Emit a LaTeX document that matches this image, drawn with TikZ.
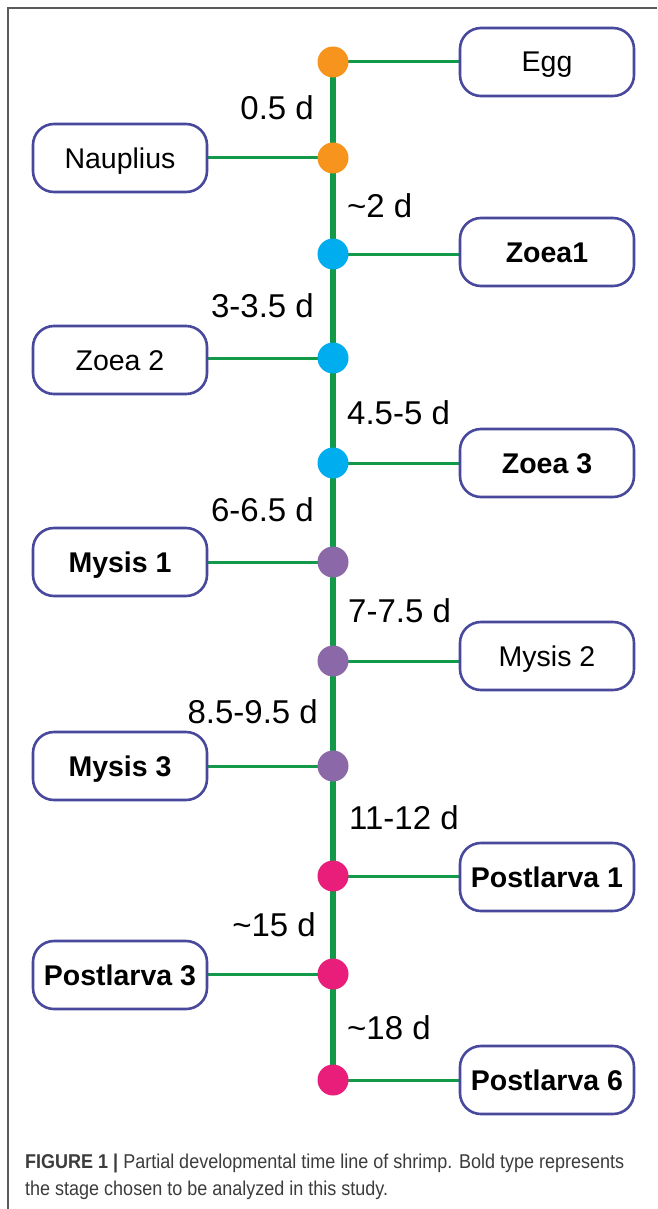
\documentclass[tikz,border=0pt]{standalone}
\usepackage{fontspec}
\setmainfont{Liberation Sans}
\newfontfamily\capfont[FakeStretch=0.9]{Liberation Sans}
\pgfdeclarelayer{back}
\pgfsetlayers{back,main}
\definecolor{lineGreen}{RGB}{19,154,72}
\definecolor{boxBlue}{RGB}{72,72,156}
\definecolor{dotOrange}{RGB}{247,148,30}
\definecolor{dotCyan}{RGB}{0,174,239}
\definecolor{dotPurple}{RGB}{139,105,168}
\definecolor{dotPink}{RGB}{233,30,122}
\definecolor{frameGray}{RGB}{90,90,90}
\definecolor{capGray}{RGB}{60,60,60}
\begin{document}
\begin{tikzpicture}[x=1pt,y=-1pt,
  stagebox/.style={draw=boxBlue,line width=2.6pt,rounded corners=21pt,fill=white,
    minimum width=174pt,minimum height=68pt,inner sep=0pt,
    text height=20pt,text depth=0pt,
    font=\fontsize{28.5}{32}\selectfont},
  dot/.style={circle,minimum size=31pt,inner sep=0pt},
  daylbl/.style={font=\fontsize{33}{38}\selectfont,inner sep=0pt},
  spine/.style={lineGreen,line width=6pt},
  link/.style={lineGreen,line width=3pt}]
\useasboundingbox (0,0) rectangle (657,1209);
% partial frame
\draw[frameGray,line width=1.3pt] (8,1209) -- (8,8) -- (657,8);

% time points on the main axis
\node[dot,fill=dotOrange] (d1) at (333,62) {};
\node[dot,fill=dotOrange] (d2) at (333,158) {};
\node[dot,fill=dotCyan] (d3) at (333,254) {};
\node[dot,fill=dotCyan] (d4) at (333,358) {};
\node[dot,fill=dotCyan] (d5) at (333,463) {};
\node[dot,fill=dotPurple] (d6) at (333,562) {};
\node[dot,fill=dotPurple] (d7) at (333,661) {};
\node[dot,fill=dotPurple] (d8) at (333,766) {};
\node[dot,fill=dotPink] (d9) at (333,876) {};
\node[dot,fill=dotPink] (d10) at (333,974) {};
\node[dot,fill=dotPink] (d11) at (333,1080) {};

% stage boxes
\node[stagebox] (egg) at (547,62) {Egg};
\node[stagebox] (naup) at (120,158) {Nauplius};
\node[stagebox] (z1) at (547,252) {\bfseries Zoea1};
\node[stagebox] (z2) at (120,360) {Zoea 2};
\node[stagebox] (z3) at (547,463) {\bfseries Zoea 3};
\node[stagebox] (m1) at (120,562) {\bfseries Mysis 1};
\node[stagebox] (m2) at (547,656) {Mysis 2};
\node[stagebox] (m3) at (120,766) {\bfseries Mysis 3};
\node[stagebox] (p1) at (547,877) {\bfseries Postlarva 1};
\node[stagebox] (p3) at (120,975) {\bfseries Postlarva 3};
\node[stagebox] (p6) at (547,1080) {\bfseries Postlarva 6};

% connectors, kept behind the dots and boxes
\begin{pgfonlayer}{back}
  \fill[white] (0,0) rectangle (657,1209);
  \draw[spine] (d1.center) -- (d11.center);
  \draw[link] (d1.center) -- (egg.west);
  \draw[link] (d2.center) -- (naup.east);
  \draw[link] (d3.center) -- (d3.center -| z1.west);
  \draw[link] (d4.center) -- (d4.center -| z2.east);
  \draw[link] (d5.center) -- (z3.west);
  \draw[link] (d6.center) -- (m1.east);
  \draw[link] (d7.center) -- (d7.center -| m2.west);
  \draw[link] (d8.center) -- (m3.east);
  \draw[link] (d9.center) -- (d9.center -| p1.west);
  \draw[link] (d10.center) -- (d10.center -| p3.east);
  \draw[link] (d11.center) -- (p6.west);
\end{pgfonlayer}

% day labels
\node[daylbl,anchor=east] (t1) at (314,108) {0.5 d};
\node[daylbl,anchor=west] (t2) at (347,206) {\textasciitilde 2 d};
\node[daylbl,anchor=east] (t3) at (314,306) {3-3.5 d};
\node[daylbl,anchor=west] (t4) at (347,413) {4.5-5 d};
\node[daylbl,anchor=east] (t5) at (314,510) {6-6.5 d};
\node[daylbl,anchor=west] (t6) at (348,611) {7-7.5 d};
\node[daylbl,anchor=east] (t7) at (318,712) {8.5-9.5 d};
\node[daylbl,anchor=west] (t8) at (349,818) {11-12 d};
\node[daylbl,anchor=east] (t9) at (316,925) {\textasciitilde 15 d};
\node[daylbl,anchor=west] (t10) at (347,1028) {\textasciitilde 18 d};

% caption
\node[anchor=west,inner sep=0pt,text=capGray,font=\capfont\fontsize{20}{27}\selectfont] (cap1) at (25,1163)
  {\textbf{FIGURE 1 |} Partial developmental time line of shrimp. Bold type represents};
\node[anchor=west,inner sep=0pt,text=capGray,font=\capfont\fontsize{20}{27}\selectfont] (cap2) at (25,1190)
  {the stage chosen to be analyzed in this study.};
\end{tikzpicture}
\end{document}
